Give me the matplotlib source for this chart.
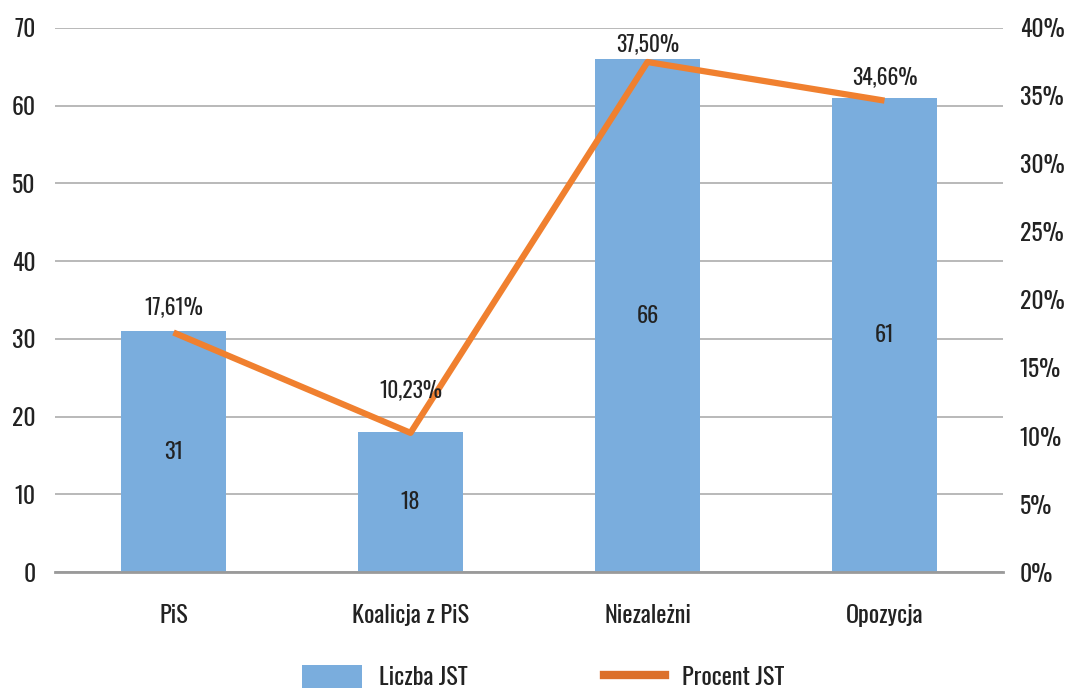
import matplotlib
matplotlib.use("Agg")
import matplotlib.pyplot as plt
from matplotlib.patches import Patch
from matplotlib.lines import Line2D
import numpy as np

# Data
categories = ["PiS", "Koalicja z PiS", "Niezależni", "Opozycja"]
counts = [31, 18, 66, 61]
percents = [17.61, 10.23, 37.50, 34.66]
left_ticks = [0, 10, 20, 30, 40, 50, 60, 70]
right_ticks = [0, 5, 10, 15, 20, 25, 30, 35, 40]

# label offset above line points (points), Excel-style placement
label_offsets = [18, 31, 13, 17]

BAR_COLOR = "#7aaddd"
LINE_COLOR = "#f0802f"
TEXT_COLOR = "#222222"

plt.rcParams['font.family'] = ['Oswald', 'Roboto Condensed', 'DejaVu Sans']

fig = plt.figure(figsize=(10.7, 6.9), dpi=100)
ax = fig.add_axes([55 / 1070, 118 / 690, 948 / 1070, 544 / 690])
ax2 = ax.twinx()

x = np.arange(len(categories))
ax.bar(x, counts, width=0.44, color=BAR_COLOR, zorder=2)
for xi, c in zip(x, counts):
    ax.text(xi, c / 2, str(c), ha="center", va="center", fontsize=16, color=TEXT_COLOR)

ax.set_xlim(-0.5, len(categories) - 0.5)
ax.set_ylim(0, 70)
ax.set_yticks(left_ticks)
ax.set_xticks(x)
ax.set_xticklabels(categories, fontsize=17.5, color=TEXT_COLOR)
ax.tick_params(axis="x", length=0, pad=23)
ax.tick_params(axis="y", length=0, pad=14, labelsize=17, labelcolor=TEXT_COLOR)
ax.yaxis.grid(True, color="#a6a6a6", linewidth=1.1, zorder=0)
ax.set_axisbelow(True)
for s in ["top", "right", "left"]:
    ax.spines[s].set_visible(False)
ax.spines["bottom"].set_color("#9a9a9a")
ax.spines["bottom"].set_linewidth(2)
ax.spines["bottom"].set_zorder(3)

ax2.plot(x, percents, color=LINE_COLOR, linewidth=4.5, solid_capstyle="butt", zorder=3)
for xi, p, off in zip(x, percents, label_offsets):
    ax2.annotate(f"{p:.2f}%".replace(".", ","), (xi, p), xytext=(0, off),
                 textcoords="offset points", ha="center", va="center",
                 fontsize=15.5, color=TEXT_COLOR)
ax2.set_ylim(0, 40)
ax2.set_yticks(right_ticks)
ax2.set_yticklabels([f"{t}%" for t in right_ticks])
ax2.tick_params(axis="y", length=0, pad=12, labelsize=17, labelcolor=TEXT_COLOR)
for s in ["top", "right", "left", "bottom"]:
    ax2.spines[s].set_visible(False)

handles = [Patch(facecolor=BAR_COLOR, edgecolor="none"),
           Line2D([0], [0], color="#dc6f2a", linewidth=6)]
fig.legend(handles, ["Liczba JST", "Procent JST"], loc="center",
           bbox_to_anchor=(543 / 1070, 1 - 677 / 690), ncol=2, frameon=False,
           fontsize=17.5, handlelength=2.5, handleheight=1.05, columnspacing=5.6,
           handletextpad=0.7, labelcolor=TEXT_COLOR, borderpad=0)

fig.savefig("out.png", dpi=100)
